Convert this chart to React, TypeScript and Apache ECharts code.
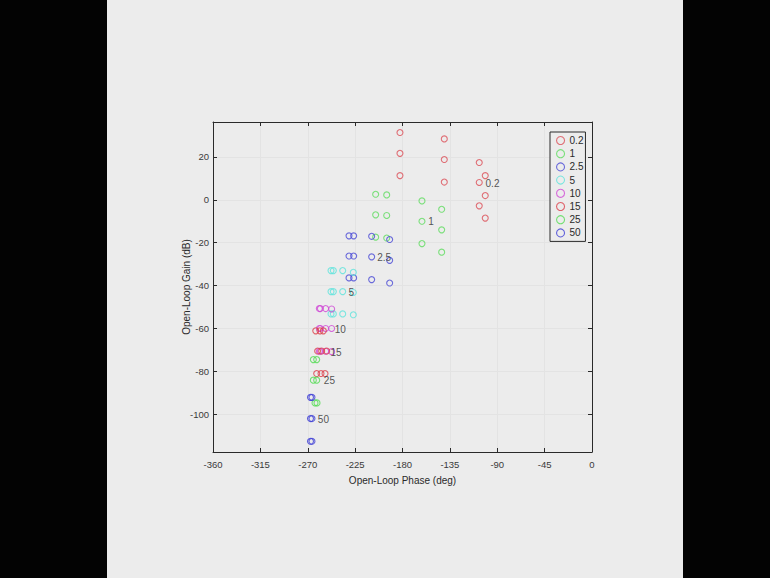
import React, { useEffect, useRef } from 'react';
import * as echarts from 'echarts';

const phaseTicks = [-360, -315, -270, -225, -180, -135, -90, -45, 0];
const gainTicks = [-100, -80, -60, -40, -20, 0, 20];
const phaseRange = [-360, 0];
const gainRange = [-117.6, 36.3];

const seriesNames = ['0.2', '1', '2.5', '5', '10', '15', '25', '50'];
const seriesColors = ['#dc4f58', '#5fdc5f', '#4a4ad6', '#5fe4dc', '#cf4ad6', '#dc3f4a', '#55dc55', '#3e3ed6'];

const w02 = [
  [-182.4, 31.4], [-182.4, 21.7], [-182.4, 11.3],
  [-140.3, 28.4], [-140.3, 18.8], [-140.3, 8.3],
  [-107.1, 17.4], [-107.1, 8.1], [-107.1, -2.8],
  [-101.4, 11.3], [-101.4, 2.0], [-101.4, -8.5],
];
const w1 = [
  [-205.5, 2.6], [-205.5, -7.0], [-205.5, -17.4],
  [-195.0, 2.3], [-195.0, -7.3], [-195.0, -17.8],
  [-161.5, -0.5], [-161.5, -10.0], [-161.5, -20.4],
  [-142.8, -4.4], [-142.8, -14.0], [-142.8, -24.4],
];
const w25 = [
  [-230.8, -16.8], [-230.8, -26.2], [-230.8, -36.4],
  [-226.4, -16.8], [-226.4, -26.2], [-226.4, -36.4],
  [-209.3, -17.0], [-209.3, -26.6], [-209.3, -37.2],
  [-192.2, -18.5], [-192.2, -28.2], [-192.2, -38.8],
];
const w5 = [
  [-247.9, -33.0], [-247.9, -42.8], [-247.9, -53.2],
  [-245.7, -33.0], [-245.7, -42.8], [-245.7, -53.2],
  [-236.8, -33.0], [-236.8, -42.8], [-236.8, -53.2],
  [-226.7, -33.8], [-226.7, -43.2], [-226.7, -53.6],
];
const w10 = [
  [-259.0, -50.7], [-259.0, -60.0], [-259.0, -70.6],
  [-258.0, -50.7], [-258.0, -60.0], [-258.0, -70.6],
  [-253.0, -50.7], [-253.0, -60.0], [-253.0, -70.6],
  [-247.3, -50.9], [-247.3, -60.0], [-247.3, -70.8],
];
const w15 = [
  [-262.4, -61.1], [-258.4, -61.1], [-255.2, -61.1],
  [-260.6, -70.5], [-256.8, -70.5], [-252.0, -70.5],
  [-261.5, -81.0], [-257.4, -81.0], [-253.6, -81.0],
];
const w25b = [
  [-264.7, -74.5], [-261.5, -74.5],
  [-264.7, -84.1], [-261.5, -84.1],
  [-263.1, -94.7], [-261.2, -94.7],
];
const w50 = [
  [-267.4, -92.1], [-266.0, -92.1],
  [-267.4, -102.0], [-266.0, -102.0],
  [-267.4, -112.6], [-266.0, -112.6],
];
const seriesData = [w02, w1, w25, w5, w10, w15, w25b, w50];

const labelPoints = [
  [-101.6, 7.6], [-156.1, -10.3], [-204.5, -27.1], [-231.8, -43.2],
  [-244.8, -60.5], [-248.9, -71.0], [-255.2, -84.1], [-260.9, -102.5],
];

const FONT = "'Liberation Sans', Arial, sans-serif";
const INK = '#2a2a2a';
const BG = '#ececec';

export default function App() {
  const ref = useRef<HTMLDivElement>(null);
  useEffect(() => {
    if (!ref.current) return;
    const chart = echarts.init(ref.current, undefined, { renderer: 'svg' });
    const axisLine = { show: true, onZero: false, lineStyle: { color: INK, width: 1 } };
    const tick = { show: true, inside: true, length: 4, lineStyle: { color: INK } };
    const grid = { show: true, lineStyle: { color: '#e3e3e3', width: 1 } };
    const scatter = seriesNames.map((name, i) => ({
      name,
      type: 'scatter',
      data: seriesData[i],
      symbol: 'circle',
      symbolSize: 6,
      itemStyle: { color: 'transparent', borderColor: seriesColors[i], borderWidth: 1.1 },
      emphasis: { disabled: true },
      z: 3,
    }));
    const labels = {
      name: 'labels',
      type: 'scatter',
      data: labelPoints.map((p, i) => ({ value: p, label: { formatter: seriesNames[i] } })),
      symbolSize: 1,
      itemStyle: { color: 'transparent' },
      label: { show: true, position: 'right', distance: 0, color: INK, fontSize: 10, fontFamily: FONT },
      emphasis: { disabled: true },
      z: 4,
    };
    chart.setOption({
      animation: false,
      backgroundColor: BG,
      textStyle: { fontFamily: FONT },
      grid: { left: 106, right: 91, top: 122, bottom: 126, containLabel: false },
      legend: {
        orient: 'vertical',
        left: 443,
        top: 132,
        padding: [3.5, 2, 3.5, 6],
        itemWidth: 8,
        itemHeight: 8,
        itemGap: 3.2,
        borderColor: INK,
        borderWidth: 1,
        backgroundColor: BG,
        textStyle: { color: INK, fontSize: 10, fontFamily: FONT },
        selectedMode: false,
        data: seriesNames.map((n, i) => ({
          name: n,
          icon: 'circle',
          itemStyle: { color: 'transparent', borderColor: seriesColors[i], borderWidth: 1.1 },
        })),
      },
      xAxis: [
        {
          type: 'value', min: phaseRange[0], max: phaseRange[1], interval: 45,
          position: 'bottom',
          name: 'Open-Loop Phase (deg)', nameLocation: 'middle', nameGap: 23.5,
          nameMoveOverlap: false,
          nameTextStyle: { color: INK, fontSize: 10, fontFamily: FONT },
          axisLine, axisTick: tick, splitLine: grid,
          axisLabel: { color: '#3a3a3a', fontSize: 9.5, margin: 7, fontFamily: FONT },
        },
        {
          type: 'value', min: phaseRange[0], max: phaseRange[1], interval: 45,
          position: 'top', axisLine, axisTick: tick, splitLine: { show: false },
          axisLabel: { show: false },
        },
      ],
      yAxis: [
        {
          type: 'value', min: gainRange[0], max: gainRange[1],
          position: 'left',
          name: 'Open-Loop Gain (dB)', nameLocation: 'middle', nameGap: 22,
          nameMoveOverlap: false,
          nameTextStyle: { color: INK, fontSize: 10, fontFamily: FONT },
          axisLine, axisTick: { ...tick, customValues: gainTicks }, splitLine: grid,
          axisLabel: { color: '#3a3a3a', fontSize: 9.5, margin: 4, fontFamily: FONT, customValues: gainTicks },
        },
        {
          type: 'value', min: gainRange[0], max: gainRange[1],
          position: 'right', axisLine, axisTick: { ...tick, customValues: gainTicks },
          splitLine: { show: false },
          axisLabel: { show: false, customValues: gainTicks },
        },
      ],
      series: [...scatter, labels],
    });
    return () => chart.dispose();
  }, []);
  return (
    <div style={{ position: 'fixed', left: 0, top: 0, width: 770, height: 578, background: '#030303' }}>
      <div ref={ref} style={{ position: 'absolute', left: 107, top: 0, width: 576, height: 578 }} />
    </div>
  );
}
